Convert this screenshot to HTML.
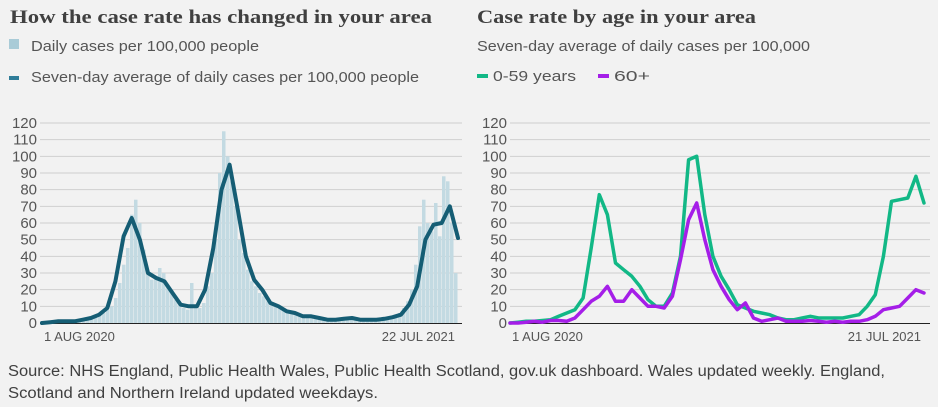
<!DOCTYPE html>
<html><head><meta charset="utf-8"><style>
html,body{margin:0;padding:0;background:#f2f2f2;width:938px;height:407px;overflow:hidden}
svg{display:block;font-family:"Liberation Sans",sans-serif}
</style></head><body>
<svg id="c" width="938" height="407" viewBox="0 0 938 407">
<rect width="938" height="407" fill="#f2f2f2"/>
<text x="10" y="23" font-family="Liberation Serif,serif" font-weight="bold" font-size="19" fill="#404040" textLength="422" lengthAdjust="spacingAndGlyphs">How the case rate has changed in your area</text>
<rect x="9" y="39" width="10" height="10" fill="#a9cbd7"/>
<text x="31" y="51" font-size="15" fill="#555" textLength="228" lengthAdjust="spacingAndGlyphs">Daily cases per 100,000 people</text>
<rect x="9" y="76" width="10" height="4" fill="#2f7d99"/>
<text x="31" y="82" font-size="15" fill="#555" textLength="388" lengthAdjust="spacingAndGlyphs">Seven-day average of daily cases per 100,000 people</text>
<text x="477" y="23" font-family="Liberation Serif,serif" font-weight="bold" font-size="19" fill="#404040" textLength="279" lengthAdjust="spacingAndGlyphs">Case rate by age in your area</text>
<text x="477" y="51" font-size="15" fill="#555" textLength="333" lengthAdjust="spacingAndGlyphs">Seven-day average of daily cases per 100,000</text>
<rect x="477" y="74" width="11" height="4" fill="#12b886"/>
<text x="493" y="81" font-size="15" fill="#555" textLength="83" lengthAdjust="spacingAndGlyphs">0-59 years</text>
<rect x="598" y="74" width="11" height="4" fill="#a51ee8"/>
<text x="614" y="81" font-size="15" fill="#555" textLength="36" lengthAdjust="spacingAndGlyphs">60+</text>
<g id="left"></g>
<g id="right"></g>
<text x="8" y="376" font-size="15.5" fill="#404040" textLength="877" lengthAdjust="spacingAndGlyphs">Source: NHS England, Public Health Wales, Public Health Scotland, gov.uk dashboard. Wales updated weekly. England,</text>
<text x="8" y="398" font-size="15.5" fill="#404040" textLength="370" lengthAdjust="spacingAndGlyphs">Scotland and Northern Ireland updated weekdays.</text>
</svg>
<script>
const yTicks = [0,10,20,30,40,50,60,70,80,90,100,110,120];
const leftDates = ["1 AUG 2020","22 JUL 2021"];
const rightDates = ["1 AUG 2020","21 JUL 2021"];
const avgAll = [0,0.5,1,1,1,2,3,5,9,25,52,63,50,30,27,25,18,11,10,10,20,45,80,95,68,40,26,20,12,10,7,6,4,4,3,2,2,2.5,3,2,2,2,2.5,3.5,5,11,22,50,59,60,70,51];
const dailyAll = [0,0.5,1,0.6,1,1.5,1,1.2,1,0.8,2,2.5,3,4,5,6,8,10,15,24,35,45,65,74,60,44,30,26,28,33,30,22,20,14,12,9,8,24,10,9,12,22,30,50,90,115,100,85,70,50,42,32,25,22,18,16,13,11,10,9,8,7,6,6,5,4.5,4,4,3.5,3,2.5,2,2,2,2.2,2.5,3,3.2,3,2.5,2,2,2,2,2.5,3,3.5,4,5,6,9,13,20,35,58,74,60,55,72,52,88,85,60,30];
const young = [0,0.5,1,1,1.5,2,4,6,8,15,45,77,65,36,32,28,22,14,10,10,18,40,98,100,65,40,28,20,11,9,7,6,5,3,2,2,3,4,3,3,3,3,4,5,10,17,40,73,74,75,88,72];
const old = [0,0,0.5,1,0.5,1.5,1.5,1,3,8,13,16,22,13,13,20,15,10,10,9,16,38,62,72,50,32,22,14,8,12,3,1,2,3,1,1,1,1.5,1,0.5,1,0.5,1,1,2,4,8,9,10,15,20,18];

const NS="http://www.w3.org/2000/svg";
function mk(tag, attrs, parent){const e=document.createElementNS(NS,tag);for(const k in attrs)e.setAttribute(k,attrs[k]);parent.appendChild(e);return e;}
const y0=323, yTop=123;
function yScale(v){return y0-(v/120)*(y0-yTop);}
function axes(g, gx0, gx1, dates, dx0, dx1){
  yTicks.forEach(t=>{
    if(t>0){const l=mk('line',{x1:gx0,x2:gx1,y1:yScale(t),y2:yScale(t),stroke:'#cfcfcf','stroke-width':1},g);
      
      }
    const tx=mk('text',{x:gx0-3,y:yScale(t)+5,'text-anchor':'end','font-size':15,fill:'#555'},g);
    tx.textContent=t;
    
    
  });
  const b=mk('line',{x1:gx0,x2:gx1,y1:y0+0.5,y2:y0+0.5,stroke:'#222','stroke-width':1},g);
  
  
  const d1=mk('text',{x:dx0,y:341,'font-size':13,fill:'#555'},g);d1.textContent=dates[0];
  
  
  const d2=mk('text',{x:dx1,y:341,'font-size':13,fill:'#555','text-anchor':'end'},g);d2.textContent=dates[1];
  
  
}
function line(g, arr, xa, xb, color, w, name){
  const xs=i=>xa+(xb-xa)*i/(arr.length-1);
  const p=mk('polyline',{points:arr.map((v,i)=>xs(i).toFixed(1)+','+yScale(v).toFixed(1)).join(' '),fill:'none',stroke:color,'stroke-width':w,'stroke-linejoin':'round','stroke-linecap':'round'},g);
  
  
}
const L=document.getElementById('left'), R=document.getElementById('right');
axes(L,40,462,leftDates,44,455);
const lx0=42, lx1=458, bw=(lx1-lx0)/dailyAll.length;
dailyAll.forEach((v,i)=>{
  const r=mk('rect',{x:(lx0+i*bw).toFixed(1),y:yScale(v).toFixed(1),width:(bw-0.5).toFixed(1),height:(y0-yScale(v)).toFixed(1),fill:'#c3dae2'},L);
  
  
});
line(L,avgAll,lx0,lx1,'#155d74',4,'seven-day-average-line');
axes(R,510,930,rightDates,512,921);
line(R,young,510,924,'#12b886',3.5,'line-0-59-years');
line(R,old,510,924,'#a51ee8',3.5,'line-60-plus');
</script>
</body></html>
